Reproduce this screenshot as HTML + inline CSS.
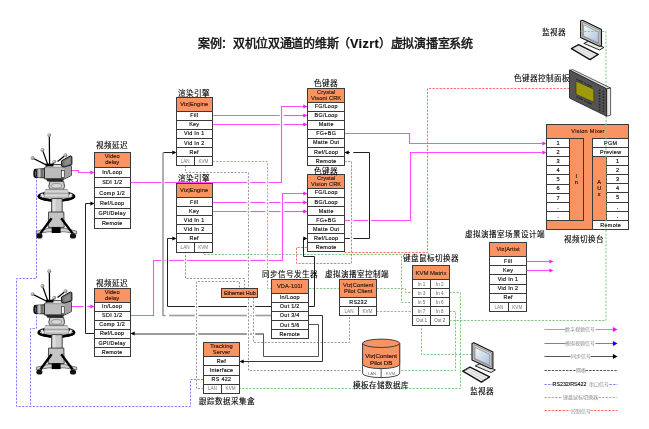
<!DOCTYPE html><html lang="zh-CN"><head><meta charset="utf-8"><title>Vizrt</title><style>html,body{margin:0;padding:0;background:#fff;width:649px;height:429px;overflow:hidden}svg{display:block;will-change:transform;font-family:"Liberation Sans",sans-serif}</style></head><body>
<svg width="649" height="429" viewBox="0 0 649 429">
<defs><linearGradient id="scr" x1="0" y1="0" x2="1" y2="1"><stop offset="0" stop-color="#f4f8fc"/><stop offset="1" stop-color="#a9bfdc"/></linearGradient></defs>
<text x="335.3" y="47.9" font-size="12" letter-spacing="-0.3" font-weight="normal" stroke="#111" stroke-width="0.45" text-anchor="middle" fill="#111">案例：双机位双通道的维斯（<tspan font-size="12.6" letter-spacing="0.4" font-weight="bold" stroke-width="0.2">Vizrt</tspan>）虚拟演播室系统</text>
<polyline points="185.50,165.50 185.50,172.50 248.50,172.50 248.50,370.50 362.50,370.50" fill="none" stroke="#999999" stroke-width="1" stroke-dasharray="2 1.5" />
<polyline points="185.50,251.50 185.50,278.50 244.50,278.50 244.50,288.50" fill="none" stroke="#999999" stroke-width="1" stroke-dasharray="2 1.5" />
<polyline points="203.50,388.50 196.50,388.50 196.50,281.50 239.50,281.50 239.50,288.50" fill="none" stroke="#999999" stroke-width="1" stroke-dasharray="2 1.5" />
<polyline points="253.50,297.50 253.50,342.50 349.50,342.50 349.50,315.50" fill="none" stroke="#999999" stroke-width="1" stroke-dasharray="2 1.5" />
<polyline points="212.50,161.50 267.50,161.50 267.50,288.50 405.50,288.50 405.50,292.50 412.50,292.50" fill="none" stroke="#86c586" stroke-width="1" stroke-dasharray="2.2 1.35" />
<polyline points="203.50,251.50 203.50,254.50 401.50,254.50 401.50,302.50 412.50,302.50" fill="none" stroke="#86c586" stroke-width="1" stroke-dasharray="2.2 1.35" />
<polyline points="376.50,311.50 412.50,311.50" fill="none" stroke="#86c586" stroke-width="1" stroke-dasharray="2.2 1.35" />
<polyline points="449.50,292.50 460.50,292.50 460.50,388.50 239.50,388.50" fill="none" stroke="#86c586" stroke-width="1" stroke-dasharray="2.2 1.35" />
<polyline points="449.50,311.50 455.50,311.50 455.50,370.50 399.50,370.50" fill="none" stroke="#86c586" stroke-width="1" stroke-dasharray="2.2 1.35" />
<polyline points="421.50,324.50 421.50,354.50 472.50,354.50" fill="none" stroke="#86c586" stroke-width="1" stroke-dasharray="2.2 1.35" />
<polyline points="36.50,176.50 36.50,278.50 16.50,278.50 16.50,406.50 190.50,406.50 190.50,379.50 203.50,379.50" fill="none" stroke="#8080ff" stroke-width="1" stroke-dasharray="2.2 1.35" />
<polyline points="36.50,312.50 36.50,328.50 30.50,328.50 30.50,406.50" fill="none" stroke="#8080ff" stroke-width="1" stroke-dasharray="2.2 1.35" />
<polyline points="344.50,161.50 351.50,161.50 351.50,263.50 296.50,263.50 296.50,247.50 307.50,247.50" fill="none" stroke="#ff6e6e" stroke-width="1" stroke-dasharray="2.2 1.35" />
<polyline points="344.50,252.50 427.50,252.50 427.50,88.50 569.50,88.50" fill="none" stroke="#ff6e6e" stroke-width="1" stroke-dasharray="2.2 1.35" />
<polyline points="271.50,306.50 255.20,306.50" fill="none" stroke="#222" stroke-width="1" />
<polyline points="251.80,306.50 250.30,306.50" fill="none" stroke="#222" stroke-width="1" />
<polyline points="246.90,306.50 198.20,306.50" fill="none" stroke="#222" stroke-width="1" />
<polyline points="194.80,306.50 167.50,306.50 167.50,238.50 172.50,238.50" fill="none" stroke="#222" stroke-width="1" />
<polygon points="176.50,238.50 172.30,236.40 172.30,240.60" fill="#000" stroke="none" stroke-width="1" />
<polyline points="271.50,315.50 255.30,315.50" fill="none" stroke="#9c9c9c" stroke-width="1.6" />
<polyline points="251.70,315.50 250.40,315.50" fill="none" stroke="#9c9c9c" stroke-width="1.6" />
<polyline points="246.80,315.50 198.30,315.50" fill="none" stroke="#9c9c9c" stroke-width="1.6" />
<polyline points="194.70,315.50 169.20,315.50" fill="none" stroke="#9c9c9c" stroke-width="1.6" />
<polyline points="165.60,315.50 163.00,315.50 163.00,152.40" fill="none" stroke="#9c9c9c" stroke-width="1.6" />
<polyline points="163.50,152.50 172.50,152.50" fill="none" stroke="#222" stroke-width="1" />
<polygon points="176.50,152.50 172.30,150.40 172.30,154.60" fill="#000" stroke="none" stroke-width="1" />
<polyline points="307.50,306.50 314.50,306.50 314.50,256.50 303.50,256.50 303.50,238.50 304.50,238.50" fill="none" stroke="#222" stroke-width="1" />
<polygon points="307.50,238.50 303.30,236.40 303.30,240.60" fill="#000" stroke="none" stroke-width="1" />
<polyline points="344.50,238.50 349.90,238.50" fill="none" stroke="#222" stroke-width="1" />
<polyline points="353.30,238.50 369.50,238.50 369.50,152.50 353.30,152.50" fill="none" stroke="#222" stroke-width="1" />
<polyline points="349.90,152.50 347.50,152.50" fill="none" stroke="#222" stroke-width="1" />
<polygon points="344.50,152.50 348.70,150.40 348.70,154.60" fill="#000" stroke="none" stroke-width="1" />
<polyline points="307.50,315.50 322.50,315.50 322.50,361.50 242.50,361.50" fill="none" stroke="#333" stroke-width="1" />
<polygon points="239.50,361.50 243.70,359.40 243.70,363.60" fill="#000" stroke="none" stroke-width="1" />
<polyline points="307.50,324.50 318.50,324.50 318.50,356.50 263.50,356.50 263.50,333.50" fill="none" stroke="#555" stroke-width="1" />
<polyline points="263.50,334.00 255.20,334.00" fill="none" stroke="#7a7a7a" stroke-width="1.6" />
<polyline points="251.80,334.00 250.30,334.00" fill="none" stroke="#7a7a7a" stroke-width="1.6" />
<polyline points="246.90,334.00 198.20,334.00" fill="none" stroke="#7a7a7a" stroke-width="1.6" />
<polyline points="194.80,334.00 134.00,334.00" fill="none" stroke="#7a7a7a" stroke-width="1.6" />
<polygon points="130.50,333.50 134.70,331.40 134.70,335.60" fill="#000" stroke="none" stroke-width="1" />
<polyline points="94.50,333.50 85.50,333.50 85.50,203.50 90.50,203.50" fill="none" stroke="#222" stroke-width="1" />
<polygon points="94.50,203.50 90.30,201.40 90.30,205.60" fill="#000" stroke="none" stroke-width="1" />
<polyline points="70.50,170.50 78.50,170.50 78.50,172.50 90.50,172.50" fill="none" stroke="#ff4dff" stroke-width="1.1" />
<polygon points="94.50,172.50 90.30,170.40 90.30,174.60" fill="#ff1aff" stroke="none" stroke-width="1" />
<polyline points="70.50,306.50 83.60,306.50" fill="none" stroke="#ff4dff" stroke-width="1.1" />
<polyline points="87.20,306.50 90.50,306.50" fill="none" stroke="#ff4dff" stroke-width="1.1" />
<polygon points="94.50,306.50 90.30,304.40 90.30,308.60" fill="#ff1aff" stroke="none" stroke-width="1" />
<polyline points="130.50,182.50 161.40,182.50" fill="none" stroke="#ff4dff" stroke-width="1.1" />
<polyline points="164.60,182.50 247.00,182.50" fill="none" stroke="#ff4dff" stroke-width="1.1" />
<polyline points="250.20,182.50 265.50,182.50" fill="none" stroke="#ff4dff" stroke-width="1.1" />
<polyline points="268.70,182.50 281.50,182.50 281.50,106.50 304.50,106.50" fill="none" stroke="#ff4dff" stroke-width="1.1" />
<polygon points="307.50,106.50 303.30,104.40 303.30,108.60" fill="#ff1aff" stroke="none" stroke-width="1" />
<polyline points="130.50,315.50 153.50,315.50 153.50,260.50 161.40,260.50" fill="none" stroke="#ff4dff" stroke-width="1.1" />
<polyline points="164.60,260.50 165.80,260.50" fill="none" stroke="#ff4dff" stroke-width="1.1" />
<polyline points="169.00,260.50 183.90,260.50" fill="none" stroke="#ff4dff" stroke-width="1.1" />
<polyline points="187.10,260.50 247.00,260.50" fill="none" stroke="#ff4dff" stroke-width="1.1" />
<polyline points="250.20,260.50 265.50,260.50" fill="none" stroke="#ff4dff" stroke-width="1.1" />
<polyline points="268.70,260.50 282.50,260.50 282.50,193.50 304.50,193.50" fill="none" stroke="#ff4dff" stroke-width="1.1" />
<polygon points="307.50,193.50 303.30,191.40 303.30,195.60" fill="#ff1aff" stroke="none" stroke-width="1" />
<polyline points="212.50,115.50 279.60,115.50" fill="none" stroke="#ff4dff" stroke-width="1.1" />
<polyline points="283.60,115.50 304.50,115.50" fill="none" stroke="#ff4dff" stroke-width="1.1" />
<polygon points="307.50,115.50 303.30,113.40 303.30,117.60" fill="#ff1aff" stroke="none" stroke-width="1" />
<polyline points="212.50,124.50 279.60,124.50" fill="none" stroke="#ff4dff" stroke-width="1.1" />
<polyline points="283.60,124.50 304.50,124.50" fill="none" stroke="#ff4dff" stroke-width="1.1" />
<polygon points="307.50,124.50 303.30,122.40 303.30,126.60" fill="#ff1aff" stroke="none" stroke-width="1" />
<polyline points="212.50,202.50 246.80,202.50" fill="none" stroke="#ff4dff" stroke-width="1.1" />
<polyline points="250.40,202.50 265.30,202.50" fill="none" stroke="#ff4dff" stroke-width="1.1" />
<polyline points="268.90,202.50 280.60,202.50" fill="none" stroke="#ff4dff" stroke-width="1.1" />
<polyline points="284.20,202.50 304.50,202.50" fill="none" stroke="#ff4dff" stroke-width="1.1" />
<polygon points="307.50,202.50 303.30,200.40 303.30,204.60" fill="#ff1aff" stroke="none" stroke-width="1" />
<polyline points="212.50,211.50 246.80,211.50" fill="none" stroke="#ff4dff" stroke-width="1.1" />
<polyline points="250.40,211.50 265.30,211.50" fill="none" stroke="#ff4dff" stroke-width="1.1" />
<polyline points="268.90,211.50 280.60,211.50" fill="none" stroke="#ff4dff" stroke-width="1.1" />
<polyline points="284.20,211.50 304.50,211.50" fill="none" stroke="#ff4dff" stroke-width="1.1" />
<polygon points="307.50,211.50 303.30,209.40 303.30,213.60" fill="#ff1aff" stroke="none" stroke-width="1" />
<polyline points="344.50,133.50 409.50,133.50 409.50,143.50 542.50,143.50" fill="none" stroke="#ff4dff" stroke-width="1.1" />
<polygon points="546.50,143.50 542.30,141.40 542.30,145.60" fill="#ff1aff" stroke="none" stroke-width="1" />
<polyline points="344.50,220.50 350.00,220.50" fill="none" stroke="#ff4dff" stroke-width="1.1" />
<polyline points="353.20,220.50 367.90,220.50" fill="none" stroke="#ff4dff" stroke-width="1.1" />
<polyline points="371.10,220.50 410.50,220.50 410.50,152.50 542.50,152.50" fill="none" stroke="#ff4dff" stroke-width="1.1" />
<polygon points="546.50,152.50 542.30,150.40 542.30,154.60" fill="#ff1aff" stroke="none" stroke-width="1" />
<polyline points="526.50,261.50 549.50,261.50" fill="none" stroke="#ff4dff" stroke-width="1.1" />
<polygon points="553.50,261.50 549.30,259.40 549.30,263.60" fill="#ff1aff" stroke="none" stroke-width="1" />
<polyline points="526.50,270.50 549.50,270.50" fill="none" stroke="#ff4dff" stroke-width="1.1" />
<polygon points="553.50,270.50 549.30,268.40 549.30,272.60" fill="#ff1aff" stroke="none" stroke-width="1" />
<line x1="49.6" y1="165.5" x2="49.3" y2="135.1" stroke="#000" stroke-width="1.25"/>
<line x1="48.1" y1="165.6" x2="42.5" y2="149.9" stroke="#000" stroke-width="1.25"/>
<line x1="47.6" y1="165.6" x2="32.5" y2="158" stroke="#000" stroke-width="1.25"/>
<line x1="52.5" y1="164.8" x2="54.3" y2="161.6" stroke="#000" stroke-width="1.25"/>
<line x1="57.6" y1="161.5" x2="65.5" y2="155.2" stroke="#000" stroke-width="1.25"/>
<circle cx="49.3" cy="135.1" r="1.95" fill="#8e8e8e"/>
<circle cx="48.849999999999994" cy="134.65" r="0.85" fill="#dedede"/>
<circle cx="42.5" cy="149.9" r="1.95" fill="#8e8e8e"/>
<circle cx="42.05" cy="149.45000000000002" r="0.85" fill="#dedede"/>
<circle cx="32.5" cy="158" r="1.95" fill="#8e8e8e"/>
<circle cx="32.05" cy="157.55" r="0.85" fill="#dedede"/>
<circle cx="54.3" cy="161.6" r="1.95" fill="#8e8e8e"/>
<circle cx="53.849999999999994" cy="161.15" r="0.85" fill="#dedede"/>
<circle cx="65.5" cy="155.2" r="1.95" fill="#8e8e8e"/>
<circle cx="65.05" cy="154.75" r="0.85" fill="#dedede"/>
<polygon points="35.00,169.30 44.80,168.60 44.80,177.80 35.00,177.40" fill="#858585" stroke="#000" stroke-width="0.8" />
<polygon points="38.20,169.10 40.40,169.00 40.40,177.60 38.20,177.50" fill="#c4c4c4" stroke="none" stroke-width="1" />
<polygon points="41.50,169.00 42.50,169.00 42.50,177.70 41.50,177.60" fill="#5a5a5a" stroke="none" stroke-width="1" />
<ellipse cx="35.2" cy="173.4" rx="1.9" ry="4.4" fill="#111"/>
<ellipse cx="35.6" cy="173.4" rx="0.7" ry="2.6" fill="#666"/>
<polygon points="44.50,167.50 49.50,164.60 68.00,164.60 71.30,166.00 71.30,175.50 64.50,178.90 44.50,178.90" fill="#bcbcbc" stroke="#222" stroke-width="0.9" />
<polygon points="45.00,167.40 49.80,165.00 66.00,165.00 61.50,167.40" fill="#dadada" stroke="none" stroke-width="1" />
<polygon points="64.60,168.20 70.90,165.60 70.90,175.30 64.60,178.40" fill="#a2a2a2" stroke="none" stroke-width="1" />
<line x1="44.5" y1="167.6" x2="64.5" y2="167.6" stroke="#666" stroke-width="0.5"/>
<rect x="61.6" y="170.6" width="2.6" height="7.1" fill="#fff" stroke="#111" stroke-width="0.6"/>
<polygon points="61.60,160.80 70.40,155.80 71.90,156.60 71.90,164.60 64.60,167.00 61.60,166.20" fill="#727272" stroke="#000" stroke-width="0.9" />
<polygon points="64.60,161.00 70.40,157.60 70.40,163.80 64.60,165.60" fill="#8c8c8c" stroke="none" stroke-width="1" />
<rect x="45.8" y="163.6" width="7.6" height="2.8" fill="#000"/>
<polygon points="45.50,178.60 64.00,178.60 63.00,181.60 47.50,181.60" fill="#2a2a2a" stroke="none" stroke-width="1" />
<polygon points="49.80,181.40 63.60,181.40 64.60,186.50 62.50,191.30 51.00,191.30 48.80,186.50" fill="#cbcbcb" stroke="#222" stroke-width="0.8" />
<ellipse cx="56.6" cy="185.8" rx="5.2" ry="2.3" fill="#d8d8d8" stroke="#555" stroke-width="0.5"/>
<polygon points="49.50,188.50 63.80,188.50 62.50,191.30 51.00,191.30" fill="#8a8a8a" stroke="none" stroke-width="1" />
<ellipse cx="56.4" cy="196.3" rx="17.7" ry="4.1" fill="#f2f2f2" stroke="#000" stroke-width="2.4"/>
<polygon points="46.00,189.30 67.00,189.30 68.60,192.40 69.40,198.20 43.60,198.20 44.40,192.40" fill="#c6c6c6" stroke="#555" stroke-width="0.5" />
<line x1="44.6" y1="191.2" x2="68.4" y2="191.2" stroke="#e6e6e6" stroke-width="0.7"/>
<line x1="44.6" y1="193.4" x2="68.4" y2="193.4" stroke="#9a9a9a" stroke-width="0.7"/>
<line x1="44.6" y1="195.4" x2="68.4" y2="195.4" stroke="#e6e6e6" stroke-width="0.7"/>
<path d="M38.7,196.3 A17.7,4.1 0 0 0 74.1,196.3" fill="none" stroke="#000" stroke-width="2.6"/>
<polygon points="40.30,194.20 42.60,193.20 44.60,196.80 42.20,197.80" fill="#f4f4f4" stroke="#444" stroke-width="0.4" />
<polygon points="72.50,194.20 70.20,193.20 68.20,196.80 70.60,197.80" fill="#f4f4f4" stroke="#444" stroke-width="0.4" />
<polygon points="51.60,198.60 62.20,198.60 62.20,214.00 51.60,214.00" fill="#cacaca" stroke="#222" stroke-width="0.8" />
<rect x="53.2" y="199" width="2.2" height="14.6" fill="#e2e2e2"/>
<polygon points="48.60,212.00 63.80,212.00 64.20,227.40 48.20,227.40" fill="#c4c4c4" stroke="#222" stroke-width="0.8" />
<polygon points="36.30,231.20 48.50,228.30 64.50,228.30 76.70,231.20 76.70,233.80 64.50,231.80 48.50,231.80 36.30,233.80" fill="#d0d0d0" stroke="#333" stroke-width="0.6" />
<line x1="51.6" y1="218.2" x2="40.4" y2="233.4" stroke="#000" stroke-width="2.4"/>
<line x1="61.2" y1="218.2" x2="72.6" y2="233.4" stroke="#000" stroke-width="2.4"/>
<rect x="51.7" y="227.2" width="8.9" height="5.8" fill="#000"/>
<ellipse cx="39.4" cy="235.9" rx="3.1" ry="2.6" fill="#111"/>
<ellipse cx="73" cy="235.9" rx="3.1" ry="2.6" fill="#111"/>
<line x1="49.6" y1="301.6" x2="49.3" y2="271.2" stroke="#000" stroke-width="1.25"/>
<line x1="48.1" y1="301.7" x2="42.5" y2="286.0" stroke="#000" stroke-width="1.25"/>
<line x1="47.6" y1="301.7" x2="32.5" y2="294.1" stroke="#000" stroke-width="1.25"/>
<line x1="52.5" y1="300.9" x2="54.3" y2="297.7" stroke="#000" stroke-width="1.25"/>
<line x1="57.6" y1="297.6" x2="65.5" y2="291.29999999999995" stroke="#000" stroke-width="1.25"/>
<circle cx="49.3" cy="271.2" r="1.95" fill="#8e8e8e"/>
<circle cx="48.849999999999994" cy="270.75" r="0.85" fill="#dedede"/>
<circle cx="42.5" cy="286.0" r="1.95" fill="#8e8e8e"/>
<circle cx="42.05" cy="285.55" r="0.85" fill="#dedede"/>
<circle cx="32.5" cy="294.1" r="1.95" fill="#8e8e8e"/>
<circle cx="32.05" cy="293.65000000000003" r="0.85" fill="#dedede"/>
<circle cx="54.3" cy="297.7" r="1.95" fill="#8e8e8e"/>
<circle cx="53.849999999999994" cy="297.25" r="0.85" fill="#dedede"/>
<circle cx="65.5" cy="291.29999999999995" r="1.95" fill="#8e8e8e"/>
<circle cx="65.05" cy="290.84999999999997" r="0.85" fill="#dedede"/>
<polygon points="35.00,305.40 44.80,304.70 44.80,313.90 35.00,313.50" fill="#858585" stroke="#000" stroke-width="0.8" />
<polygon points="38.20,305.20 40.40,305.10 40.40,313.70 38.20,313.60" fill="#c4c4c4" stroke="none" stroke-width="1" />
<polygon points="41.50,305.10 42.50,305.10 42.50,313.80 41.50,313.70" fill="#5a5a5a" stroke="none" stroke-width="1" />
<ellipse cx="35.2" cy="309.5" rx="1.9" ry="4.4" fill="#111"/>
<ellipse cx="35.6" cy="309.5" rx="0.7" ry="2.6" fill="#666"/>
<polygon points="44.50,303.60 49.50,300.70 68.00,300.70 71.30,302.10 71.30,311.60 64.50,315.00 44.50,315.00" fill="#bcbcbc" stroke="#222" stroke-width="0.9" />
<polygon points="45.00,303.50 49.80,301.10 66.00,301.10 61.50,303.50" fill="#dadada" stroke="none" stroke-width="1" />
<polygon points="64.60,304.30 70.90,301.70 70.90,311.40 64.60,314.50" fill="#a2a2a2" stroke="none" stroke-width="1" />
<line x1="44.5" y1="303.7" x2="64.5" y2="303.7" stroke="#666" stroke-width="0.5"/>
<rect x="61.6" y="306.7" width="2.6" height="7.1" fill="#fff" stroke="#111" stroke-width="0.6"/>
<polygon points="61.60,296.90 70.40,291.90 71.90,292.70 71.90,300.70 64.60,303.10 61.60,302.30" fill="#727272" stroke="#000" stroke-width="0.9" />
<polygon points="64.60,297.10 70.40,293.70 70.40,299.90 64.60,301.70" fill="#8c8c8c" stroke="none" stroke-width="1" />
<rect x="45.8" y="299.7" width="7.6" height="2.8" fill="#000"/>
<polygon points="45.50,314.70 64.00,314.70 63.00,317.70 47.50,317.70" fill="#2a2a2a" stroke="none" stroke-width="1" />
<polygon points="49.80,317.50 63.60,317.50 64.60,322.60 62.50,327.40 51.00,327.40 48.80,322.60" fill="#cbcbcb" stroke="#222" stroke-width="0.8" />
<ellipse cx="56.6" cy="321.9" rx="5.2" ry="2.3" fill="#d8d8d8" stroke="#555" stroke-width="0.5"/>
<polygon points="49.50,324.60 63.80,324.60 62.50,327.40 51.00,327.40" fill="#8a8a8a" stroke="none" stroke-width="1" />
<ellipse cx="56.4" cy="332.4" rx="17.7" ry="4.1" fill="#f2f2f2" stroke="#000" stroke-width="2.4"/>
<polygon points="46.00,325.40 67.00,325.40 68.60,328.50 69.40,334.30 43.60,334.30 44.40,328.50" fill="#c6c6c6" stroke="#555" stroke-width="0.5" />
<line x1="44.6" y1="327.29999999999995" x2="68.4" y2="327.29999999999995" stroke="#e6e6e6" stroke-width="0.7"/>
<line x1="44.6" y1="329.5" x2="68.4" y2="329.5" stroke="#9a9a9a" stroke-width="0.7"/>
<line x1="44.6" y1="331.5" x2="68.4" y2="331.5" stroke="#e6e6e6" stroke-width="0.7"/>
<path d="M38.7,332.4 A17.7,4.1 0 0 0 74.1,332.4" fill="none" stroke="#000" stroke-width="2.6"/>
<polygon points="40.30,330.30 42.60,329.30 44.60,332.90 42.20,333.90" fill="#f4f4f4" stroke="#444" stroke-width="0.4" />
<polygon points="72.50,330.30 70.20,329.30 68.20,332.90 70.60,333.90" fill="#f4f4f4" stroke="#444" stroke-width="0.4" />
<polygon points="51.60,334.70 62.20,334.70 62.20,350.10 51.60,350.10" fill="#cacaca" stroke="#222" stroke-width="0.8" />
<rect x="53.2" y="335.1" width="2.2" height="14.6" fill="#e2e2e2"/>
<polygon points="48.60,348.10 63.80,348.10 64.20,363.50 48.20,363.50" fill="#c4c4c4" stroke="#222" stroke-width="0.8" />
<polygon points="36.30,367.30 48.50,364.40 64.50,364.40 76.70,367.30 76.70,369.90 64.50,367.90 48.50,367.90 36.30,369.90" fill="#d0d0d0" stroke="#333" stroke-width="0.6" />
<line x1="51.6" y1="354.29999999999995" x2="40.4" y2="369.5" stroke="#000" stroke-width="2.4"/>
<line x1="61.2" y1="354.29999999999995" x2="72.6" y2="369.5" stroke="#000" stroke-width="2.4"/>
<rect x="51.7" y="363.29999999999995" width="8.9" height="5.8" fill="#000"/>
<ellipse cx="39.4" cy="372.0" rx="3.1" ry="2.6" fill="#111"/>
<ellipse cx="73" cy="372.0" rx="3.1" ry="2.6" fill="#111"/>
<rect x="94.50" y="152.50" width="36.00" height="15.00" fill="#f99462" stroke="#3a3a3a" stroke-width="1"/>
<text x="112.25" y="158.15" font-size="5.7" text-anchor="middle" fill="#2a1a10" font-weight="normal" letter-spacing="0.12" stroke="#2a1a10" stroke-width="0.16">Video</text>
<text x="112.25" y="164.35" font-size="5.7" text-anchor="middle" fill="#2a1a10" font-weight="normal" letter-spacing="0.12" stroke="#2a1a10" stroke-width="0.16">delay</text>
<rect x="94.50" y="167.50" width="36.00" height="10.00" fill="#fff" stroke="#3a3a3a" stroke-width="1"/>
<text x="112.25" y="174.22" font-size="5.4" text-anchor="middle" fill="#111" font-weight="normal" letter-spacing="0.3" stroke="#111" stroke-width="0.16">In/Loop</text>
<rect x="94.50" y="177.50" width="36.00" height="10.00" fill="#fff" stroke="#3a3a3a" stroke-width="1"/>
<text x="112.25" y="184.37" font-size="5.4" text-anchor="middle" fill="#111" font-weight="normal" letter-spacing="0.3" stroke="#111" stroke-width="0.16">SDI 1/2</text>
<rect x="94.50" y="187.50" width="36.00" height="10.00" fill="#fff" stroke="#3a3a3a" stroke-width="1"/>
<text x="112.25" y="194.52" font-size="5.4" text-anchor="middle" fill="#111" font-weight="normal" letter-spacing="0.3" stroke="#111" stroke-width="0.16">Comp 1/2</text>
<rect x="94.50" y="197.50" width="36.00" height="11.00" fill="#fff" stroke="#3a3a3a" stroke-width="1"/>
<text x="112.25" y="204.67" font-size="5.4" text-anchor="middle" fill="#111" font-weight="normal" letter-spacing="0.3" stroke="#111" stroke-width="0.16">Ref/Loop</text>
<rect x="94.50" y="208.50" width="36.00" height="10.00" fill="#fff" stroke="#3a3a3a" stroke-width="1"/>
<text x="112.25" y="214.82" font-size="5.4" text-anchor="middle" fill="#111" font-weight="normal" letter-spacing="0.3" stroke="#111" stroke-width="0.16">GPI/Delay</text>
<rect x="94.50" y="218.50" width="36.00" height="10.00" fill="#fff" stroke="#3a3a3a" stroke-width="1"/>
<text x="112.25" y="224.97" font-size="5.4" text-anchor="middle" fill="#111" font-weight="normal" letter-spacing="0.3" stroke="#111" stroke-width="0.16">Remote</text>
<text x="112.20" y="148.19" font-size="7.6" text-anchor="middle" fill="#000" font-weight="normal" stroke="#000" stroke-width="0.1">视频延迟</text>
<rect x="94.50" y="288.50" width="36.00" height="14.00" fill="#f99462" stroke="#3a3a3a" stroke-width="1"/>
<text x="112.15" y="293.65" font-size="5.7" text-anchor="middle" fill="#2a1a10" font-weight="normal" letter-spacing="0.12" stroke="#2a1a10" stroke-width="0.16">Video</text>
<text x="112.15" y="299.85" font-size="5.7" text-anchor="middle" fill="#2a1a10" font-weight="normal" letter-spacing="0.12" stroke="#2a1a10" stroke-width="0.16">delay</text>
<rect x="94.50" y="302.50" width="36.00" height="9.00" fill="#fff" stroke="#3a3a3a" stroke-width="1"/>
<text x="112.15" y="308.28" font-size="5.4" text-anchor="middle" fill="#111" font-weight="normal" letter-spacing="0.3" stroke="#111" stroke-width="0.16">In/Loop</text>
<rect x="94.50" y="311.50" width="36.00" height="9.00" fill="#fff" stroke="#3a3a3a" stroke-width="1"/>
<text x="112.15" y="317.35" font-size="5.4" text-anchor="middle" fill="#111" font-weight="normal" letter-spacing="0.3" stroke="#111" stroke-width="0.16">SDI 1/2</text>
<rect x="94.50" y="320.50" width="36.00" height="9.00" fill="#fff" stroke="#3a3a3a" stroke-width="1"/>
<text x="112.15" y="326.42" font-size="5.4" text-anchor="middle" fill="#111" font-weight="normal" letter-spacing="0.3" stroke="#111" stroke-width="0.16">Comp 1/2</text>
<rect x="94.50" y="329.50" width="36.00" height="9.00" fill="#fff" stroke="#3a3a3a" stroke-width="1"/>
<text x="112.15" y="335.49" font-size="5.4" text-anchor="middle" fill="#111" font-weight="normal" letter-spacing="0.3" stroke="#111" stroke-width="0.16">Ref/Loop</text>
<rect x="94.50" y="338.50" width="36.00" height="9.00" fill="#fff" stroke="#3a3a3a" stroke-width="1"/>
<text x="112.15" y="344.56" font-size="5.4" text-anchor="middle" fill="#111" font-weight="normal" letter-spacing="0.3" stroke="#111" stroke-width="0.16">GPI/Delay</text>
<rect x="94.50" y="347.50" width="36.00" height="9.00" fill="#fff" stroke="#3a3a3a" stroke-width="1"/>
<text x="112.15" y="353.63" font-size="5.4" text-anchor="middle" fill="#111" font-weight="normal" letter-spacing="0.3" stroke="#111" stroke-width="0.16">Remote</text>
<text x="112.20" y="286.49" font-size="7.6" text-anchor="middle" fill="#000" font-weight="normal" stroke="#000" stroke-width="0.1">视频延迟</text>
<rect x="176.50" y="97.50" width="36.00" height="14.00" fill="#f99462" stroke="#3a3a3a" stroke-width="1"/>
<text x="194.25" y="105.70" font-size="5.7" text-anchor="middle" fill="#2a1a10" font-weight="normal" letter-spacing="0.12" stroke="#2a1a10" stroke-width="0.16">Viz|Engine</text>
<rect x="176.50" y="111.50" width="36.00" height="9.00" fill="#fff" stroke="#3a3a3a" stroke-width="1"/>
<text x="194.25" y="117.37" font-size="5.4" text-anchor="middle" fill="#111" font-weight="normal" letter-spacing="0.3" stroke="#111" stroke-width="0.16">Fill</text>
<rect x="176.50" y="120.50" width="36.00" height="9.00" fill="#fff" stroke="#3a3a3a" stroke-width="1"/>
<text x="194.25" y="126.42" font-size="5.4" text-anchor="middle" fill="#111" font-weight="normal" letter-spacing="0.3" stroke="#111" stroke-width="0.16">Key</text>
<rect x="176.50" y="129.50" width="36.00" height="9.00" fill="#fff" stroke="#3a3a3a" stroke-width="1"/>
<text x="194.25" y="135.47" font-size="5.4" text-anchor="middle" fill="#111" font-weight="normal" letter-spacing="0.3" stroke="#111" stroke-width="0.16">Vid In 1</text>
<rect x="176.50" y="138.50" width="36.00" height="9.00" fill="#fff" stroke="#3a3a3a" stroke-width="1"/>
<text x="194.25" y="144.52" font-size="5.4" text-anchor="middle" fill="#111" font-weight="normal" letter-spacing="0.3" stroke="#111" stroke-width="0.16">Vid In 2</text>
<rect x="176.50" y="147.50" width="36.00" height="9.00" fill="#fff" stroke="#3a3a3a" stroke-width="1"/>
<text x="194.25" y="153.57" font-size="5.4" text-anchor="middle" fill="#111" font-weight="normal" letter-spacing="0.3" stroke="#111" stroke-width="0.16">Ref</text>
<rect x="176.50" y="156.50" width="18.00" height="9.00" fill="#fff" stroke="#3a3a3a" stroke-width="1"/>
<rect x="194.50" y="156.50" width="18.00" height="9.00" fill="#fff" stroke="#3a3a3a" stroke-width="1"/>
<text x="185.12" y="162.63" font-size="4.6" text-anchor="middle" fill="#777" font-weight="normal" >LAN</text>
<text x="203.38" y="162.63" font-size="4.6" text-anchor="middle" fill="#777" font-weight="normal" >KVM</text>
<text x="194.20" y="96.49" font-size="7.6" text-anchor="middle" fill="#000" font-weight="normal" stroke="#000" stroke-width="0.1">渲染引擎</text>
<rect x="176.50" y="183.50" width="36.00" height="14.00" fill="#f99462" stroke="#3a3a3a" stroke-width="1"/>
<text x="194.15" y="192.10" font-size="5.7" text-anchor="middle" fill="#2a1a10" font-weight="normal" letter-spacing="0.12" stroke="#2a1a10" stroke-width="0.16">Viz|Engine</text>
<rect x="176.50" y="197.50" width="36.00" height="9.00" fill="#fff" stroke="#3a3a3a" stroke-width="1"/>
<text x="194.15" y="203.69" font-size="5.4" text-anchor="middle" fill="#111" font-weight="normal" letter-spacing="0.3" stroke="#111" stroke-width="0.16">Fill</text>
<rect x="176.50" y="206.50" width="36.00" height="9.00" fill="#fff" stroke="#3a3a3a" stroke-width="1"/>
<text x="194.15" y="212.79" font-size="5.4" text-anchor="middle" fill="#111" font-weight="normal" letter-spacing="0.3" stroke="#111" stroke-width="0.16">Key</text>
<rect x="176.50" y="215.50" width="36.00" height="9.00" fill="#fff" stroke="#3a3a3a" stroke-width="1"/>
<text x="194.15" y="221.89" font-size="5.4" text-anchor="middle" fill="#111" font-weight="normal" letter-spacing="0.3" stroke="#111" stroke-width="0.16">Vid In 1</text>
<rect x="176.50" y="224.50" width="36.00" height="9.00" fill="#fff" stroke="#3a3a3a" stroke-width="1"/>
<text x="194.15" y="230.99" font-size="5.4" text-anchor="middle" fill="#111" font-weight="normal" letter-spacing="0.3" stroke="#111" stroke-width="0.16">Vid In 2</text>
<rect x="176.50" y="233.50" width="36.00" height="9.00" fill="#fff" stroke="#3a3a3a" stroke-width="1"/>
<text x="194.15" y="240.09" font-size="5.4" text-anchor="middle" fill="#111" font-weight="normal" letter-spacing="0.3" stroke="#111" stroke-width="0.16">Ref</text>
<rect x="176.50" y="242.50" width="18.00" height="10.00" fill="#fff" stroke="#3a3a3a" stroke-width="1"/>
<rect x="194.50" y="242.50" width="18.00" height="10.00" fill="#fff" stroke="#3a3a3a" stroke-width="1"/>
<text x="185.07" y="249.21" font-size="4.6" text-anchor="middle" fill="#777" font-weight="normal" >LAN</text>
<text x="203.22" y="249.21" font-size="4.6" text-anchor="middle" fill="#777" font-weight="normal" >KVM</text>
<text x="194.20" y="181.49" font-size="7.6" text-anchor="middle" fill="#000" font-weight="normal" stroke="#000" stroke-width="0.1">渲染引擎</text>
<rect x="307.50" y="88.50" width="37.00" height="14.00" fill="#f99462" stroke="#3a3a3a" stroke-width="1"/>
<text x="326.20" y="93.65" font-size="5.7" text-anchor="middle" fill="#2a1a10" font-weight="normal" letter-spacing="0.12" stroke="#2a1a10" stroke-width="0.16">Crystal</text>
<text x="326.20" y="99.85" font-size="5.7" text-anchor="middle" fill="#2a1a10" font-weight="normal" letter-spacing="0.12" stroke="#2a1a10" stroke-width="0.16">Visoni CRK</text>
<rect x="307.50" y="102.50" width="37.00" height="9.00" fill="#fff" stroke="#3a3a3a" stroke-width="1"/>
<text x="326.20" y="108.27" font-size="5.4" text-anchor="middle" fill="#111" font-weight="normal" letter-spacing="0.3" stroke="#111" stroke-width="0.16">FG/Loop</text>
<rect x="307.50" y="111.50" width="37.00" height="9.00" fill="#fff" stroke="#3a3a3a" stroke-width="1"/>
<text x="326.20" y="117.32" font-size="5.4" text-anchor="middle" fill="#111" font-weight="normal" letter-spacing="0.3" stroke="#111" stroke-width="0.16">BG/Loop</text>
<rect x="307.50" y="120.50" width="37.00" height="9.00" fill="#fff" stroke="#3a3a3a" stroke-width="1"/>
<text x="326.20" y="126.37" font-size="5.4" text-anchor="middle" fill="#111" font-weight="normal" letter-spacing="0.3" stroke="#111" stroke-width="0.16">Matte</text>
<rect x="307.50" y="129.50" width="37.00" height="9.00" fill="#fff" stroke="#3a3a3a" stroke-width="1"/>
<text x="326.20" y="135.42" font-size="5.4" text-anchor="middle" fill="#111" font-weight="normal" letter-spacing="0.3" stroke="#111" stroke-width="0.16">FG+BG</text>
<rect x="307.50" y="138.50" width="37.00" height="9.00" fill="#fff" stroke="#3a3a3a" stroke-width="1"/>
<text x="326.20" y="144.47" font-size="5.4" text-anchor="middle" fill="#111" font-weight="normal" letter-spacing="0.3" stroke="#111" stroke-width="0.16">Matte Out</text>
<rect x="307.50" y="147.50" width="37.00" height="9.00" fill="#fff" stroke="#3a3a3a" stroke-width="1"/>
<text x="326.20" y="153.52" font-size="5.4" text-anchor="middle" fill="#111" font-weight="normal" letter-spacing="0.3" stroke="#111" stroke-width="0.16">Ref/Loop</text>
<rect x="307.50" y="156.50" width="37.00" height="9.00" fill="#fff" stroke="#3a3a3a" stroke-width="1"/>
<text x="326.20" y="162.57" font-size="5.4" text-anchor="middle" fill="#111" font-weight="normal" letter-spacing="0.3" stroke="#111" stroke-width="0.16">Remote</text>
<text x="326.20" y="86.49" font-size="7.6" text-anchor="middle" fill="#000" font-weight="normal" stroke="#000" stroke-width="0.1">色键器</text>
<rect x="307.50" y="174.50" width="37.00" height="14.00" fill="#f99462" stroke="#3a3a3a" stroke-width="1"/>
<text x="326.20" y="179.85" font-size="5.7" text-anchor="middle" fill="#2a1a10" font-weight="normal" letter-spacing="0.12" stroke="#2a1a10" stroke-width="0.16">Crystal</text>
<text x="326.20" y="186.05" font-size="5.7" text-anchor="middle" fill="#2a1a10" font-weight="normal" letter-spacing="0.12" stroke="#2a1a10" stroke-width="0.16">Vision CRK</text>
<rect x="307.50" y="188.50" width="37.00" height="9.00" fill="#fff" stroke="#3a3a3a" stroke-width="1"/>
<text x="326.20" y="194.49" font-size="5.4" text-anchor="middle" fill="#111" font-weight="normal" letter-spacing="0.3" stroke="#111" stroke-width="0.16">FG/Loop</text>
<rect x="307.50" y="197.50" width="37.00" height="9.00" fill="#fff" stroke="#3a3a3a" stroke-width="1"/>
<text x="326.20" y="203.59" font-size="5.4" text-anchor="middle" fill="#111" font-weight="normal" letter-spacing="0.3" stroke="#111" stroke-width="0.16">BG/Loop</text>
<rect x="307.50" y="206.50" width="37.00" height="9.00" fill="#fff" stroke="#3a3a3a" stroke-width="1"/>
<text x="326.20" y="212.69" font-size="5.4" text-anchor="middle" fill="#111" font-weight="normal" letter-spacing="0.3" stroke="#111" stroke-width="0.16">Matte</text>
<rect x="307.50" y="215.50" width="37.00" height="9.00" fill="#fff" stroke="#3a3a3a" stroke-width="1"/>
<text x="326.20" y="221.79" font-size="5.4" text-anchor="middle" fill="#111" font-weight="normal" letter-spacing="0.3" stroke="#111" stroke-width="0.16">FG+BG</text>
<rect x="307.50" y="224.50" width="37.00" height="9.00" fill="#fff" stroke="#3a3a3a" stroke-width="1"/>
<text x="326.20" y="230.89" font-size="5.4" text-anchor="middle" fill="#111" font-weight="normal" letter-spacing="0.3" stroke="#111" stroke-width="0.16">Matte Out</text>
<rect x="307.50" y="233.50" width="37.00" height="9.00" fill="#fff" stroke="#3a3a3a" stroke-width="1"/>
<text x="326.20" y="239.99" font-size="5.4" text-anchor="middle" fill="#111" font-weight="normal" letter-spacing="0.3" stroke="#111" stroke-width="0.16">Ref/Loop</text>
<rect x="307.50" y="242.50" width="37.00" height="9.00" fill="#fff" stroke="#3a3a3a" stroke-width="1"/>
<text x="326.20" y="249.09" font-size="5.4" text-anchor="middle" fill="#111" font-weight="normal" letter-spacing="0.3" stroke="#111" stroke-width="0.16">Remote</text>
<text x="326.20" y="174.09" font-size="7.6" text-anchor="middle" fill="#000" font-weight="normal" stroke="#000" stroke-width="0.1">色键器</text>
<rect x="489.50" y="242.50" width="37.00" height="14.00" fill="#f99462" stroke="#3a3a3a" stroke-width="1"/>
<text x="508.10" y="251.35" font-size="5.7" text-anchor="middle" fill="#2a1a10" font-weight="normal" letter-spacing="0.12" stroke="#2a1a10" stroke-width="0.16">Viz|Artist</text>
<rect x="489.50" y="256.50" width="37.00" height="9.00" fill="#fff" stroke="#3a3a3a" stroke-width="1"/>
<text x="508.10" y="262.91" font-size="5.4" text-anchor="middle" fill="#111" font-weight="normal" letter-spacing="0.3" stroke="#111" stroke-width="0.16">Fill</text>
<rect x="489.50" y="265.50" width="37.00" height="9.00" fill="#fff" stroke="#3a3a3a" stroke-width="1"/>
<text x="508.10" y="272.04" font-size="5.4" text-anchor="middle" fill="#111" font-weight="normal" letter-spacing="0.3" stroke="#111" stroke-width="0.16">Key</text>
<rect x="489.50" y="274.50" width="37.00" height="10.00" fill="#fff" stroke="#3a3a3a" stroke-width="1"/>
<text x="508.10" y="281.17" font-size="5.4" text-anchor="middle" fill="#111" font-weight="normal" letter-spacing="0.3" stroke="#111" stroke-width="0.16">Vid In 1</text>
<rect x="489.50" y="284.50" width="37.00" height="9.00" fill="#fff" stroke="#3a3a3a" stroke-width="1"/>
<text x="508.10" y="290.30" font-size="5.4" text-anchor="middle" fill="#111" font-weight="normal" letter-spacing="0.3" stroke="#111" stroke-width="0.16">Vid In 2</text>
<rect x="489.50" y="293.50" width="37.00" height="9.00" fill="#fff" stroke="#3a3a3a" stroke-width="1"/>
<text x="508.10" y="299.43" font-size="5.4" text-anchor="middle" fill="#111" font-weight="normal" letter-spacing="0.3" stroke="#111" stroke-width="0.16">Ref</text>
<rect x="489.50" y="302.50" width="19.00" height="9.00" fill="#fff" stroke="#3a3a3a" stroke-width="1"/>
<rect x="508.50" y="302.50" width="18.00" height="9.00" fill="#fff" stroke="#3a3a3a" stroke-width="1"/>
<text x="498.95" y="308.57" font-size="4.6" text-anchor="middle" fill="#777" font-weight="normal" >LAN</text>
<text x="517.25" y="308.57" font-size="4.6" text-anchor="middle" fill="#777" font-weight="normal" >KVM</text>
<text x="505.40" y="237.49" font-size="7.6" text-anchor="middle" fill="#000" font-weight="normal" stroke="#000" stroke-width="0.1">虚拟演播室场景设计端</text>
<rect x="412.50" y="265.50" width="37.00" height="14.00" fill="#f99462" stroke="#3a3a3a" stroke-width="1"/>
<text x="430.90" y="274.60" font-size="6" text-anchor="middle" fill="#2a1a10" font-weight="normal" stroke="#2a1a10" stroke-width="0.15">KVM Matrix</text>
<rect x="412.50" y="279.50" width="18.00" height="9.00" fill="#fff" stroke="#3a3a3a" stroke-width="1"/>
<rect x="430.50" y="279.50" width="19.00" height="9.00" fill="#fff" stroke="#3a3a3a" stroke-width="1"/>
<text x="421.50" y="285.70" font-size="4.6" text-anchor="middle" fill="#666" font-weight="normal" >In 1</text>
<text x="439.80" y="285.70" font-size="4.6" text-anchor="middle" fill="#666" font-weight="normal" >In 2</text>
<rect x="412.50" y="288.50" width="18.00" height="9.00" fill="#fff" stroke="#3a3a3a" stroke-width="1"/>
<rect x="430.50" y="288.50" width="19.00" height="9.00" fill="#fff" stroke="#3a3a3a" stroke-width="1"/>
<text x="421.50" y="294.80" font-size="4.6" text-anchor="middle" fill="#666" font-weight="normal" >In 3</text>
<text x="439.80" y="294.80" font-size="4.6" text-anchor="middle" fill="#666" font-weight="normal" >In 4</text>
<rect x="412.50" y="297.50" width="18.00" height="9.00" fill="#fff" stroke="#3a3a3a" stroke-width="1"/>
<rect x="430.50" y="297.50" width="19.00" height="9.00" fill="#fff" stroke="#3a3a3a" stroke-width="1"/>
<text x="421.50" y="303.90" font-size="4.6" text-anchor="middle" fill="#666" font-weight="normal" >In 5</text>
<text x="439.80" y="303.90" font-size="4.6" text-anchor="middle" fill="#666" font-weight="normal" >In 6</text>
<rect x="412.50" y="306.50" width="18.00" height="9.00" fill="#fff" stroke="#3a3a3a" stroke-width="1"/>
<rect x="430.50" y="306.50" width="19.00" height="9.00" fill="#fff" stroke="#3a3a3a" stroke-width="1"/>
<text x="421.50" y="313.00" font-size="4.6" text-anchor="middle" fill="#666" font-weight="normal" >In 7</text>
<text x="439.80" y="313.00" font-size="4.6" text-anchor="middle" fill="#666" font-weight="normal" >In 8</text>
<rect x="412.50" y="315.50" width="18.00" height="10.00" fill="#fff" stroke="#3a3a3a" stroke-width="1"/>
<rect x="430.50" y="315.50" width="19.00" height="10.00" fill="#fff" stroke="#3a3a3a" stroke-width="1"/>
<text x="421.50" y="322.10" font-size="4.6" text-anchor="middle" fill="#666" font-weight="normal" >Out 1</text>
<text x="439.80" y="322.10" font-size="4.6" text-anchor="middle" fill="#666" font-weight="normal" >Out 2</text>
<text x="431.00" y="261.49" font-size="7.6" text-anchor="middle" fill="#000" font-weight="normal" stroke="#000" stroke-width="0.1">键盘鼠标切换器</text>
<rect x="339.50" y="279.50" width="37.00" height="18.00" fill="#f99462" stroke="#3a3a3a" stroke-width="1"/>
<text x="358.20" y="286.85" font-size="5.7" text-anchor="middle" fill="#2a1a10" font-weight="normal" letter-spacing="0.12" stroke="#2a1a10" stroke-width="0.16">Viz|Content</text>
<text x="358.20" y="293.05" font-size="5.7" text-anchor="middle" fill="#2a1a10" font-weight="normal" letter-spacing="0.12" stroke="#2a1a10" stroke-width="0.16">Pilot Client</text>
<rect x="339.50" y="297.50" width="37.00" height="9.00" fill="#fff" stroke="#3a3a3a" stroke-width="1"/>
<text x="358.20" y="303.74" font-size="5.4" text-anchor="middle" fill="#111" font-weight="normal" letter-spacing="0.3" stroke="#111" stroke-width="0.16">RS232</text>
<rect x="339.50" y="306.50" width="19.00" height="9.00" fill="#fff" stroke="#3a3a3a" stroke-width="1"/>
<rect x="358.50" y="306.50" width="18.00" height="9.00" fill="#fff" stroke="#3a3a3a" stroke-width="1"/>
<text x="349.00" y="312.76" font-size="4.6" text-anchor="middle" fill="#777" font-weight="normal" >LAN</text>
<text x="367.40" y="312.76" font-size="4.6" text-anchor="middle" fill="#777" font-weight="normal" >KVM</text>
<text x="357.00" y="277.19" font-size="7.6" text-anchor="middle" fill="#000" font-weight="normal" stroke="#000" stroke-width="0.1">虚拟演播室控制端</text>
<rect x="271.50" y="279.50" width="37.00" height="14.00" fill="#f99462" stroke="#3a3a3a" stroke-width="1"/>
<text x="289.75" y="287.70" font-size="5.7" text-anchor="middle" fill="#2a1a10" font-weight="normal" letter-spacing="0.12" stroke="#2a1a10" stroke-width="0.16">VDA-101I</text>
<rect x="271.50" y="293.50" width="37.00" height="9.00" fill="#fff" stroke="#3a3a3a" stroke-width="1"/>
<text x="289.75" y="299.28" font-size="5.4" text-anchor="middle" fill="#111" font-weight="normal" letter-spacing="0.3" stroke="#111" stroke-width="0.16">In/Loop</text>
<rect x="271.50" y="302.50" width="37.00" height="9.00" fill="#fff" stroke="#3a3a3a" stroke-width="1"/>
<text x="289.75" y="308.36" font-size="5.4" text-anchor="middle" fill="#111" font-weight="normal" letter-spacing="0.3" stroke="#111" stroke-width="0.16">Out 1/2</text>
<rect x="271.50" y="311.50" width="37.00" height="9.00" fill="#fff" stroke="#3a3a3a" stroke-width="1"/>
<text x="289.75" y="317.44" font-size="5.4" text-anchor="middle" fill="#111" font-weight="normal" letter-spacing="0.3" stroke="#111" stroke-width="0.16">Out 3/4</text>
<rect x="271.50" y="320.50" width="37.00" height="9.00" fill="#fff" stroke="#3a3a3a" stroke-width="1"/>
<text x="289.75" y="326.52" font-size="5.4" text-anchor="middle" fill="#111" font-weight="normal" letter-spacing="0.3" stroke="#111" stroke-width="0.16">Out 5/6</text>
<rect x="271.50" y="329.50" width="37.00" height="9.00" fill="#fff" stroke="#3a3a3a" stroke-width="1"/>
<text x="289.75" y="335.60" font-size="5.4" text-anchor="middle" fill="#111" font-weight="normal" letter-spacing="0.3" stroke="#111" stroke-width="0.16">Remote</text>
<text x="289.50" y="276.79" font-size="7.6" text-anchor="middle" fill="#000" font-weight="normal" stroke="#000" stroke-width="0.1">同步信号发生器</text>
<rect x="221.50" y="288.50" width="36.00" height="9.00" fill="#f99462" stroke="#3a3a3a" stroke-width="1"/>
<text x="239.80" y="295.00" font-size="5.4" text-anchor="middle" fill="#2a1a10" font-weight="normal" stroke="#2a1a10" stroke-width="0.18">Ethernet Hub</text>
<rect x="203.50" y="342.50" width="36.00" height="14.00" fill="#f99462" stroke="#3a3a3a" stroke-width="1"/>
<text x="221.50" y="348.25" font-size="5.7" text-anchor="middle" fill="#2a1a10" font-weight="normal" letter-spacing="0.12" stroke="#2a1a10" stroke-width="0.16">Tracking</text>
<text x="221.50" y="354.45" font-size="5.7" text-anchor="middle" fill="#2a1a10" font-weight="normal" letter-spacing="0.12" stroke="#2a1a10" stroke-width="0.16">Server</text>
<rect x="203.50" y="356.50" width="36.00" height="9.00" fill="#fff" stroke="#3a3a3a" stroke-width="1"/>
<text x="221.50" y="362.93" font-size="5.4" text-anchor="middle" fill="#111" font-weight="normal" letter-spacing="0.3" stroke="#111" stroke-width="0.16">Ref</text>
<rect x="203.50" y="365.50" width="36.00" height="10.00" fill="#fff" stroke="#3a3a3a" stroke-width="1"/>
<text x="221.50" y="372.10" font-size="5.4" text-anchor="middle" fill="#111" font-weight="normal" letter-spacing="0.3" stroke="#111" stroke-width="0.16">Interface</text>
<rect x="203.50" y="375.50" width="36.00" height="9.00" fill="#fff" stroke="#3a3a3a" stroke-width="1"/>
<text x="221.50" y="381.27" font-size="5.4" text-anchor="middle" fill="#111" font-weight="normal" letter-spacing="0.3" stroke="#111" stroke-width="0.16">RS 422</text>
<rect x="203.50" y="384.50" width="18.00" height="9.00" fill="#fff" stroke="#3a3a3a" stroke-width="1"/>
<rect x="221.50" y="384.50" width="18.00" height="9.00" fill="#fff" stroke="#3a3a3a" stroke-width="1"/>
<text x="212.40" y="390.45" font-size="4.6" text-anchor="middle" fill="#777" font-weight="normal" >LAN</text>
<text x="230.60" y="390.45" font-size="4.6" text-anchor="middle" fill="#777" font-weight="normal" >KVM</text>
<text x="226.60" y="404.39" font-size="7.6" text-anchor="middle" fill="#000" font-weight="normal" stroke="#000" stroke-width="0.1">跟踪数据采集盒</text>
<path d="M362.6,343.3 L362.6,373.3 A18.55,4.3 0 0 0 399.7,373.3 L399.7,343.3" fill="#fff" stroke="#333" stroke-width="0.9"/>
<path d="M362.6,343.3 L362.6,364.3 A18.55,4.3 0 0 0 399.7,364.3 L399.7,343.3 Z" fill="#f99462" stroke="#333" stroke-width="0.9"/>
<ellipse cx="381.15" cy="343.3" rx="18.55" ry="4.2" fill="#f99462" stroke="#333" stroke-width="0.9"/>
<line x1="381.15" y1="368.6" x2="381.15" y2="377.6" stroke="#333" stroke-width="0.8"/>
<text x="381.20" y="358.30" font-size="6.2" text-anchor="middle" fill="#2a1a10" font-weight="normal" stroke="#2a1a10" stroke-width="0.2">Viz|Content</text>
<text x="381.20" y="364.80" font-size="6.2" text-anchor="middle" fill="#2a1a10" font-weight="normal" stroke="#2a1a10" stroke-width="0.2">Pilot DB</text>
<text x="372.00" y="374.80" font-size="4.4" text-anchor="middle" fill="#777" font-weight="normal" >LAN</text>
<text x="390.50" y="374.80" font-size="4.4" text-anchor="middle" fill="#777" font-weight="normal" >KVM</text>
<text x="381.00" y="387.99" font-size="7.6" text-anchor="middle" fill="#000" font-weight="normal" stroke="#000" stroke-width="0.1">模板存储数据库</text>
<rect x="546.50" y="124.50" width="82.00" height="105.00" fill="#f99462" stroke="#3a3a3a" stroke-width="1"/>
<text x="588.00" y="132.60" font-size="5.5" text-anchor="middle" fill="#2a1a10" font-weight="normal" letter-spacing="0.3" stroke="#2a1a10" stroke-width="0.16">Vision Mixer</text>
<rect x="546.50" y="138.50" width="23.00" height="9.00" fill="#fff" stroke="#3a3a3a" stroke-width="1"/>
<text x="558.20" y="144.90" font-size="5.6" text-anchor="middle" fill="#111" font-weight="normal" letter-spacing="0.3" stroke="#111" stroke-width="0.16">1</text>
<rect x="546.50" y="147.50" width="23.00" height="9.00" fill="#fff" stroke="#3a3a3a" stroke-width="1"/>
<text x="558.20" y="154.00" font-size="5.6" text-anchor="middle" fill="#111" font-weight="normal" letter-spacing="0.3" stroke="#111" stroke-width="0.16">2</text>
<rect x="546.50" y="156.50" width="23.00" height="9.00" fill="#fff" stroke="#3a3a3a" stroke-width="1"/>
<text x="558.20" y="163.10" font-size="5.6" text-anchor="middle" fill="#111" font-weight="normal" letter-spacing="0.3" stroke="#111" stroke-width="0.16">3</text>
<rect x="546.50" y="165.50" width="23.00" height="9.00" fill="#fff" stroke="#3a3a3a" stroke-width="1"/>
<text x="558.20" y="172.20" font-size="5.6" text-anchor="middle" fill="#111" font-weight="normal" letter-spacing="0.3" stroke="#111" stroke-width="0.16">4</text>
<rect x="546.50" y="174.50" width="23.00" height="10.00" fill="#fff" stroke="#3a3a3a" stroke-width="1"/>
<text x="558.20" y="181.30" font-size="5.6" text-anchor="middle" fill="#111" font-weight="normal" letter-spacing="0.3" stroke="#111" stroke-width="0.16">5</text>
<rect x="546.50" y="184.50" width="23.00" height="9.00" fill="#fff" stroke="#3a3a3a" stroke-width="1"/>
<text x="558.20" y="190.40" font-size="5.6" text-anchor="middle" fill="#111" font-weight="normal" letter-spacing="0.3" stroke="#111" stroke-width="0.16">6</text>
<rect x="546.50" y="193.50" width="23.00" height="9.00" fill="#fff" stroke="#3a3a3a" stroke-width="1"/>
<text x="558.20" y="199.50" font-size="5.6" text-anchor="middle" fill="#111" font-weight="normal" letter-spacing="0.3" stroke="#111" stroke-width="0.16">7</text>
<rect x="546.50" y="202.50" width="23.00" height="9.00" fill="#fff" stroke="#3a3a3a" stroke-width="1"/>
<text x="558.20" y="208.60" font-size="5.6" text-anchor="middle" fill="#111" font-weight="normal" letter-spacing="0.3" stroke="#111" stroke-width="0.16">.</text>
<rect x="546.50" y="211.50" width="23.00" height="9.00" fill="#fff" stroke="#3a3a3a" stroke-width="1"/>
<text x="558.20" y="217.70" font-size="5.6" text-anchor="middle" fill="#111" font-weight="normal" letter-spacing="0.3" stroke="#111" stroke-width="0.16">.</text>
<rect x="569.50" y="138.50" width="14.00" height="82.00" fill="#f99462" stroke="#3a3a3a" stroke-width="1"/>
<text x="576.40" y="177.50" font-size="5.6" text-anchor="middle" fill="#111" font-weight="normal" letter-spacing="0.3" stroke="#111" stroke-width="0.16">I</text>
<text x="576.40" y="184.00" font-size="5.6" text-anchor="middle" fill="#111" font-weight="normal" letter-spacing="0.3" stroke="#111" stroke-width="0.16">n</text>
<rect x="592.50" y="138.50" width="36.00" height="9.00" fill="#fff" stroke="#3a3a3a" stroke-width="1"/>
<text x="610.70" y="145.20" font-size="5.4" text-anchor="middle" fill="#111" font-weight="normal" letter-spacing="0.3" stroke="#111" stroke-width="0.16">PGM</text>
<rect x="592.50" y="147.50" width="36.00" height="9.00" fill="#fff" stroke="#3a3a3a" stroke-width="1"/>
<text x="610.70" y="154.00" font-size="5.4" text-anchor="middle" fill="#111" font-weight="normal" letter-spacing="0.3" stroke="#111" stroke-width="0.16">Preview</text>
<rect x="592.50" y="156.50" width="14.00" height="64.00" fill="#f99462" stroke="#3a3a3a" stroke-width="1"/>
<text x="599.30" y="184.00" font-size="5.6" text-anchor="middle" fill="#111" font-weight="normal" letter-spacing="0.3" stroke="#111" stroke-width="0.16">A</text>
<text x="599.30" y="190.00" font-size="5.6" text-anchor="middle" fill="#111" font-weight="normal" letter-spacing="0.3" stroke="#111" stroke-width="0.16">U</text>
<text x="599.30" y="196.00" font-size="5.6" text-anchor="middle" fill="#111" font-weight="normal" letter-spacing="0.3" stroke="#111" stroke-width="0.16">x</text>
<rect x="606.50" y="156.50" width="22.00" height="9.00" fill="#fff" stroke="#3a3a3a" stroke-width="1"/>
<text x="617.70" y="162.60" font-size="5.6" text-anchor="middle" fill="#111" font-weight="normal" letter-spacing="0.3" stroke="#111" stroke-width="0.16">1</text>
<rect x="606.50" y="165.50" width="22.00" height="9.00" fill="#fff" stroke="#3a3a3a" stroke-width="1"/>
<text x="617.70" y="171.79" font-size="5.6" text-anchor="middle" fill="#111" font-weight="normal" letter-spacing="0.3" stroke="#111" stroke-width="0.16">2</text>
<rect x="606.50" y="174.50" width="22.00" height="9.00" fill="#fff" stroke="#3a3a3a" stroke-width="1"/>
<text x="617.70" y="180.98" font-size="5.6" text-anchor="middle" fill="#111" font-weight="normal" letter-spacing="0.3" stroke="#111" stroke-width="0.16">3</text>
<rect x="606.50" y="183.50" width="22.00" height="9.00" fill="#fff" stroke="#3a3a3a" stroke-width="1"/>
<text x="617.70" y="190.17" font-size="5.6" text-anchor="middle" fill="#111" font-weight="normal" letter-spacing="0.3" stroke="#111" stroke-width="0.16">4</text>
<rect x="606.50" y="192.50" width="22.00" height="10.00" fill="#fff" stroke="#3a3a3a" stroke-width="1"/>
<text x="617.70" y="199.36" font-size="5.6" text-anchor="middle" fill="#111" font-weight="normal" letter-spacing="0.3" stroke="#111" stroke-width="0.16">5</text>
<rect x="606.50" y="202.50" width="22.00" height="9.00" fill="#fff" stroke="#3a3a3a" stroke-width="1"/>
<text x="617.70" y="208.55" font-size="5.6" text-anchor="middle" fill="#111" font-weight="normal" letter-spacing="0.3" stroke="#111" stroke-width="0.16">.</text>
<rect x="606.50" y="211.50" width="22.00" height="9.00" fill="#fff" stroke="#3a3a3a" stroke-width="1"/>
<text x="617.70" y="217.74" font-size="5.6" text-anchor="middle" fill="#111" font-weight="normal" letter-spacing="0.3" stroke="#111" stroke-width="0.16">.</text>
<rect x="592.50" y="220.50" width="36.00" height="9.00" fill="#fff" stroke="#3a3a3a" stroke-width="1"/>
<text x="610.70" y="226.80" font-size="5.4" text-anchor="middle" fill="#111" font-weight="normal" letter-spacing="0.3" stroke="#111" stroke-width="0.16">Remote</text>
<text x="584.00" y="241.79" font-size="7.6" text-anchor="middle" fill="#000" font-weight="normal" stroke="#000" stroke-width="0.1">视频切换台</text>
<polygon points="571.40,48.60 578.60,44.60 598.20,54.40 590.00,59.60" fill="#ececec" stroke="#111" stroke-width="1.3" stroke-linejoin="round"/>
<line x1="573.78" y1="47.28" x2="592.71" y2="57.88" stroke="#bbb" stroke-width="0.5"/>
<line x1="576.15" y1="45.96" x2="595.41" y2="56.17" stroke="#bbb" stroke-width="0.5"/>
<polygon points="583.80,43.40 588.50,41.20 604.00,47.40 599.50,50.00" fill="#e6e6e6" stroke="#111" stroke-width="0.9" />
<polygon points="580.60,21.00 582.50,20.20 601.50,29.60 601.50,45.50 599.50,46.30 580.60,37.50" fill="#cfcfcf" stroke="#111" stroke-width="1.1" stroke-linejoin="round"/>
<polygon points="582.60,22.20 600.00,30.60 600.00,44.50 582.60,36.40" fill="#e0e0e0" stroke="#444" stroke-width="0.5" />
<polygon points="583.60,24.80 598.40,31.80 598.40,43.00 583.60,36.00" fill="url(#scr)" stroke="#555" stroke-width="0.5" />
<polygon points="462.80,371.10 470.00,367.10 489.60,376.90 481.40,382.10" fill="#ececec" stroke="#111" stroke-width="1.3" stroke-linejoin="round"/>
<line x1="465.18" y1="369.78" x2="484.11" y2="380.38" stroke="#bbb" stroke-width="0.5"/>
<line x1="467.55" y1="368.46" x2="486.81" y2="378.67" stroke="#bbb" stroke-width="0.5"/>
<polygon points="475.20,365.90 479.90,363.70 495.40,369.90 490.90,372.50" fill="#e6e6e6" stroke="#111" stroke-width="0.9" />
<polygon points="472.00,343.50 473.90,342.70 492.90,352.10 492.90,368.00 490.90,368.80 472.00,360.00" fill="#cfcfcf" stroke="#111" stroke-width="1.1" stroke-linejoin="round"/>
<polygon points="474.00,344.70 491.40,353.10 491.40,367.00 474.00,358.90" fill="#e0e0e0" stroke="#444" stroke-width="0.5" />
<polygon points="475.00,347.30 489.80,354.30 489.80,365.50 475.00,358.50" fill="url(#scr)" stroke="#555" stroke-width="0.5" />
<text x="553.50" y="34.99" font-size="7.6" text-anchor="middle" fill="#000" font-weight="normal" stroke="#000" stroke-width="0.1">监视器</text>
<text x="482.30" y="393.79" font-size="7.6" text-anchor="middle" fill="#000" font-weight="normal" stroke="#000" stroke-width="0.1">监视器</text>
<polyline points="449.50,320.50 606.00,320.50 606.00,31.50 580.50,31.50" fill="none" stroke="#86c586" stroke-width="1" stroke-dasharray="2.2 1.35" />
<polygon points="569.50,70.20 572.80,69.60 610.60,88.00 606.60,88.90" fill="#d6d6d6" stroke="#222" stroke-width="0.7" />
<polygon points="606.60,88.90 610.60,88.00 610.60,115.20 606.60,116.20" fill="#e8e8e8" stroke="#222" stroke-width="0.7" />
<polygon points="569.50,70.20 606.60,88.90 606.60,116.20 569.50,98.00" fill="#545454" stroke="#1a1a1a" stroke-width="0.8" />
<polygon points="576.00,81.10 593.80,89.30 593.80,102.30 576.00,94.30" fill="#9f9a0c" stroke="#2a2a2a" stroke-width="0.6" />
<polygon points="576.3,78.35 577.9,79.13 577.9,80.53 576.3,79.75" fill="#2a2a2a"/>
<polygon points="576.3,95.95 577.9,96.73 577.9,98.13 576.3,97.35" fill="#2a2a2a"/>
<polygon points="578.5,79.42 582.9,81.58 582.9,82.98 578.5,80.82" fill="#2a2a2a"/>
<polygon points="578.5,97.02 582.9,99.18 582.9,100.58 578.5,98.42" fill="#2a2a2a"/>
<polygon points="584.2,82.22 585.8,83.00 585.8,84.40 584.2,83.62" fill="#2a2a2a"/>
<polygon points="584.2,99.82 585.8,100.60 585.8,102.00 584.2,101.22" fill="#2a2a2a"/>
<polygon points="586.6,83.39 591.8,85.94 591.8,87.34 586.6,84.79" fill="#2a2a2a"/>
<polygon points="586.6,100.99 591.8,103.54 591.8,104.94 586.6,102.39" fill="#2a2a2a"/>
<rect x="598.8" y="89.5" width="1.7" height="1.5" fill="#262626"/>
<rect x="602.6" y="90.8" width="1.7" height="1.5" fill="#262626"/>
<rect x="598.8" y="92.3" width="1.7" height="1.5" fill="#262626"/>
<rect x="602.6" y="93.6" width="1.7" height="1.5" fill="#262626"/>
<rect x="598.8" y="95.2" width="1.7" height="1.5" fill="#262626"/>
<rect x="602.6" y="96.5" width="1.7" height="1.5" fill="#262626"/>
<rect x="598.8" y="98.0" width="1.7" height="1.5" fill="#262626"/>
<rect x="602.6" y="99.3" width="1.7" height="1.5" fill="#262626"/>
<rect x="598.8" y="100.9" width="1.7" height="1.5" fill="#262626"/>
<rect x="602.6" y="102.2" width="1.7" height="1.5" fill="#262626"/>
<rect x="598.8" y="103.8" width="1.7" height="1.5" fill="#262626"/>
<rect x="602.6" y="105.0" width="1.7" height="1.5" fill="#262626"/>
<rect x="598.8" y="106.6" width="1.7" height="1.5" fill="#262626"/>
<rect x="602.6" y="107.9" width="1.7" height="1.5" fill="#262626"/>
<rect x="598.8" y="109.5" width="1.7" height="1.5" fill="#262626"/>
<rect x="602.6" y="110.8" width="1.7" height="1.5" fill="#262626"/>
<text x="541.50" y="80.89" font-size="7.6" text-anchor="middle" fill="#000" font-weight="normal" stroke="#000" stroke-width="0.1">色键器控制面板</text>
<polyline points="544.50,329.50 565.50,329.50" fill="none" stroke="#ff66ff" stroke-width="1" />
<polyline points="595.50,329.50 613.50,329.50" fill="none" stroke="#ff66ff" stroke-width="1" />
<polygon points="617.50,329.50 612.90,327.10 612.90,331.90" fill="#ff00ff" stroke="none" stroke-width="1" />
<text x="580.45" y="331.10" font-size="5" text-anchor="middle" fill="#8a8a8a" font-weight="normal" >数字视频信号</text>
<polyline points="544.50,343.50 565.50,343.50" fill="none" stroke="#7272ff" stroke-width="1" />
<polyline points="595.50,343.50 613.50,343.50" fill="none" stroke="#7272ff" stroke-width="1" />
<polygon points="617.50,343.50 612.90,341.10 612.90,345.90" fill="#0000ff" stroke="none" stroke-width="1" />
<text x="580.45" y="344.90" font-size="5" text-anchor="middle" fill="#8a8a8a" font-weight="normal" >模拟视频信号</text>
<polyline points="544.50,356.50 570.50,356.50" fill="none" stroke="#555" stroke-width="1" />
<polyline points="590.50,356.50 613.50,356.50" fill="none" stroke="#555" stroke-width="1" />
<polygon points="617.50,356.50 612.90,354.10 612.90,358.90" fill="#000" stroke="none" stroke-width="1" />
<text x="580.80" y="358.00" font-size="5" text-anchor="middle" fill="#8a8a8a" font-weight="normal" >同步信号</text>
<polyline points="544.50,370.50 575.50,370.50" fill="none" stroke="#555" stroke-width="1" stroke-dasharray="2.4 1.2" />
<polyline points="585.50,370.50 617.50,370.50" fill="none" stroke="#555" stroke-width="1" stroke-dasharray="2.4 1.2" />
<text x="580.50" y="371.50" font-size="5" text-anchor="middle" fill="#8a8a8a" font-weight="normal" >网络</text>
<polyline points="544.50,384.50 552.50,384.50" fill="none" stroke="#8080ff" stroke-width="1" stroke-dasharray="2.4 1.2" />
<polyline points="609.50,384.50 617.50,384.50" fill="none" stroke="#8080ff" stroke-width="1" stroke-dasharray="2.4 1.2" />
<text x="552.60" y="385.90" font-size="5.3" text-anchor="start" fill="#111" font-weight="normal" stroke="#111" stroke-width="0.15">RS232/RS422</text>
<text x="589.00" y="385.50" font-size="5" text-anchor="start" fill="#8a8a8a" font-weight="normal" >串口信号</text>
<polyline points="544.50,397.50 562.50,397.50" fill="none" stroke="#86c586" stroke-width="1" stroke-dasharray="2.4 1.2" />
<polyline points="598.50,397.50 617.50,397.50" fill="none" stroke="#86c586" stroke-width="1" stroke-dasharray="2.4 1.2" />
<text x="580.75" y="399.00" font-size="5" text-anchor="middle" fill="#8a8a8a" font-weight="normal" >键盘鼠标切换器</text>
<polyline points="544.50,410.50 570.50,410.50" fill="none" stroke="#ff6e6e" stroke-width="1" stroke-dasharray="2.4 1.2" />
<polyline points="590.50,410.50 617.50,410.50" fill="none" stroke="#ff6e6e" stroke-width="1" stroke-dasharray="2.4 1.2" />
<text x="580.55" y="412.50" font-size="5" text-anchor="middle" fill="#8a8a8a" font-weight="normal" >控制信号</text>
</svg></body></html>
